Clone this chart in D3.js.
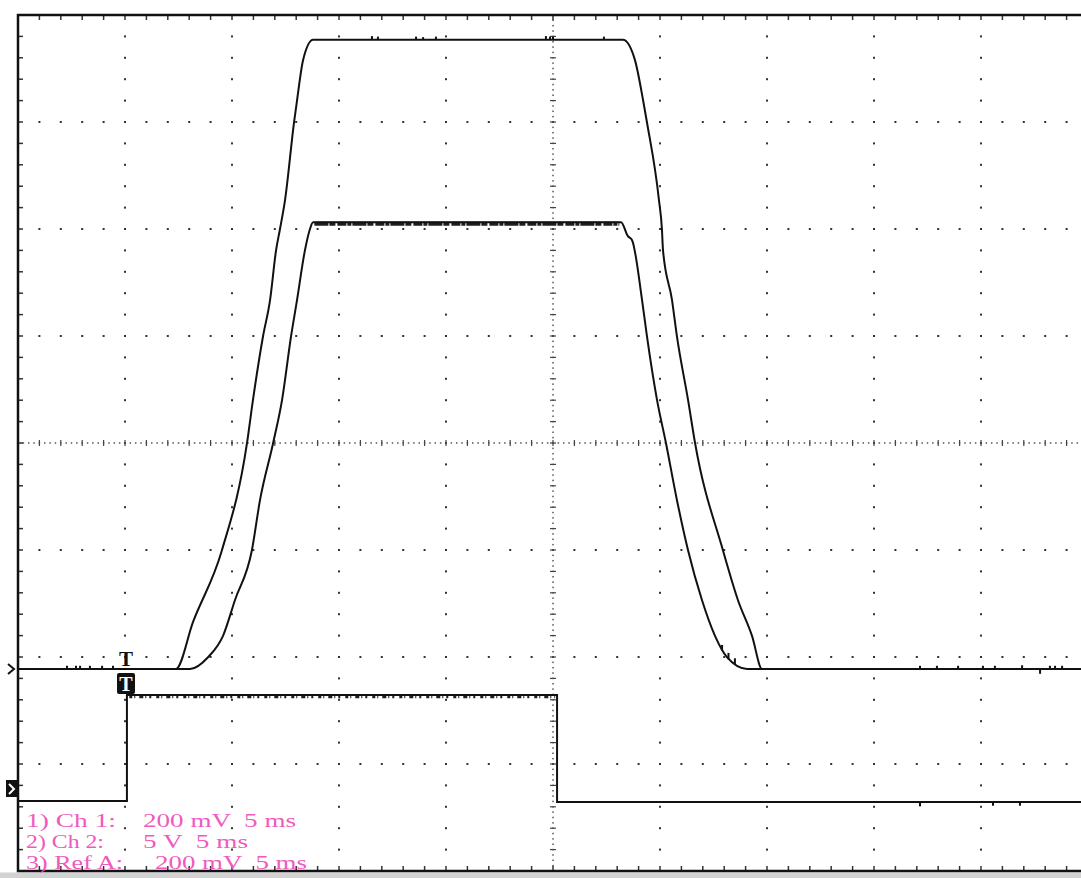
<!DOCTYPE html>
<html>
<head>
<meta charset="utf-8">
<script src="https://cdn.jsdelivr.net/npm/d3@7"></script>
<style>
  body { margin: 0; background: #fff; }
  svg { display: block; }
  .lbl { white-space: pre; }
</style>
</head>
<body>
<div id="scope"></div>
<script>
// time axis in ms, trigger at 0, 5 ms/div ; vertical axis in screen divisions
const timeDomain = [-5, 45];
const divDomain = [-4, 4];

// Ch 1 (200 mV/div) : [ms, V]
const ch1Trace = [
  [-5, 0], [2.38, 0], [3.18, 0.088], [4.53, 0.222], [5.70, 0.422], [5.98, 0.503],
  [6.45, 0.622], [6.78, 0.690], [7.06, 0.783], [7.24, 0.822], [7.48, 0.877],
  [7.90, 1.022], [8.04, 1.063], [8.32, 1.138], [8.79, 1.176], [23.27, 1.176],
  [23.83, 1.138], [24.21, 1.063], [24.39, 1.022], [24.95, 0.877], [25.09, 0.822],
  [25.14, 0.783], [25.56, 0.690], [25.79, 0.622], [26.31, 0.503], [26.64, 0.422],
  [27.94, 0.222], [28.64, 0.129], [29.30, 0.062], [29.77, 0], [45, 0]
];

// Ref A (200 mV/div) : [ms, V]
const refATrace = [
  [-5, 0], [3.04, 0], [3.88, 0.022], [4.58, 0.062], [5.14, 0.129], [5.93, 0.222],
  [6.31, 0.316], [6.92, 0.422], [7.34, 0.503], [7.76, 0.622], [8.04, 0.690],
  [8.41, 0.783], [8.64, 0.822], [8.79, 0.835], [23.18, 0.835], [23.50, 0.809],
  [23.69, 0.802], [24.16, 0.690], [24.39, 0.622], [24.86, 0.503], [25.28, 0.422],
  [25.79, 0.316], [26.31, 0.222], [26.96, 0.129], [27.57, 0.062], [28.13, 0.022],
  [29.07, 0], [45, 0]
];

// Ch 2 (5 V/div) : [ms, V]
const ch2Trace = [
  [-5, 0], [0.09, 0], [0.09, 4.95], [20.19, 4.95], [20.19, -0.05], [45, -0.05]
];

const ch1Glitches = [
  [-2.71, 0, 0.006], [-2.29, 0, 0.006], [-2.10, 0, 0.006], [-1.64, 0, 0.006],
  [-1.07, 0, 0.006], [-0.56, 0, 0.006],
  [11.54, 1.176, 1.183], [11.82, 1.176, 1.182], [13.60, 1.176, 1.182], [13.93, 1.176, 1.181],
  [14.53, 1.176, 1.182], [19.67, 1.176, 1.183], [19.86, 1.176, 1.182], [20.00, 1.176, 1.182],
  [22.38, 1.176, 1.182],
  [37.15, 0, 0.006], [37.94, 0, 0.006], [38.93, 0, 0.006], [40.09, 0, 0.006],
  [40.65, 0, 0.006], [41.92, 0, 0.007], [42.76, 0, -0.009], [43.22, 0, 0.006],
  [43.46, 0, 0.006], [43.79, 0, 0.006]
];
const refAGlitches = [
  [27.9, 0.035, 0.045], [28.2, 0.018, 0.030], [28.5, 0.008, 0.020]
];
const ch2Glitches = [
  [37.15, -0.05, -0.25], [40.56, -0.05, -0.22], [41.82, -0.05, -0.22]
];
// noise envelope of the flat tops : [ms from, ms to, V low, V high]
const refAEnvelope = [8.85, 23.1, 0.827, 0.837];
const ch2Envelope = [0.2, 20.1, 4.80, 4.95];

// readout text
const labelNames = ["1) Ch 1:", "2) Ch 2:", "3) Ref A:"];
const labelScales = ["200 mV  5 ms", "5 V  5 ms", "200 mV  5 ms"];

// ---- channel settings (screen offsets in divisions) ----
const ch1 = {vpd: 0.2, offset: -2.112};
const refA = {vpd: 0.2, offset: -2.112};
const ch2 = {vpd: 5, offset: -3.346};

const W = 1081, H = 878;
const svg = d3.select("#scope").append("svg")
  .attr("width", W).attr("height", H);

svg.append("rect").attr("width", W).attr("height", H).attr("fill", "#fff");

const x = d3.scaleLinear().domain(timeDomain).range([18, 1088]);
const y = d3.scaleLinear().domain(divDomain).range([871, 15]);
const yv = (ch, v) => y(ch.offset + v / ch.vpd);

// ---- graticule ----
const majorX = d3.range(timeDomain[0], timeDomain[1] + 0.01, 5);
const minorX = d3.range(timeDomain[0], timeDomain[1] + 0.01, 1);
const majorY = d3.range(divDomain[0], divDomain[1] + 0.01, 1);
const minorY = d3.range(divDomain[0], divDomain[1] + 0.01, 0.2);
const centerT = (timeDomain[0] + timeDomain[1]) / 2;

const grid = svg.append("g").attr("fill", "#333");

majorX.filter(t => t > timeDomain[0] && Math.abs(t - centerT) > 0.01).forEach(t => {
  grid.selectAll(null).data(minorY.slice(1, -1)).enter().append("rect")
    .attr("x", x(t) - 1).attr("y", d => y(d) - 1)
    .attr("width", 2).attr("height", 2);
});
majorY.filter(d => Math.abs(d) > 0.01 && Math.abs(d) < 3.99).forEach(d => {
  grid.selectAll(null).data(minorX.slice(1)).enter().append("rect")
    .attr("x", t => x(t) - 1).attr("y", y(d) - 1)
    .attr("width", 2).attr("height", 2);
});

// center cross lines: dense dots + small ticks
const centerG = svg.append("g").attr("fill", "#555").attr("stroke", "#444");
centerG.selectAll(null).data(d3.range(divDomain[0], divDomain[1], 0.05)).enter().append("rect")
  .attr("x", x(centerT) - 0.75).attr("y", d => y(d) - 0.75)
  .attr("width", 1.5).attr("height", 1.5).attr("stroke", "none");
centerG.selectAll(null).data(minorY.slice(1, -1)).enter().append("line")
  .attr("x1", x(centerT) - 3).attr("x2", x(centerT) + 3)
  .attr("y1", d => y(d)).attr("y2", d => y(d)).attr("stroke-width", 1.2);
centerG.selectAll(null).data(d3.range(timeDomain[0], timeDomain[1], 0.25)).enter().append("rect")
  .attr("x", t => x(t) - 0.75).attr("y", y(0) - 0.75)
  .attr("width", 1.5).attr("height", 1.5).attr("stroke", "none");
centerG.selectAll(null).data(minorX.slice(1)).enter().append("line")
  .attr("x1", t => x(t)).attr("x2", t => x(t))
  .attr("y1", y(0) - 3).attr("y2", y(0) + 3).attr("stroke-width", 1.2);

// border ticks
const ticks = svg.append("g").attr("stroke", "#333").attr("stroke-width", 1.5);
ticks.selectAll(null).data(minorX.slice(1)).enter().append("line")
  .attr("x1", t => x(t)).attr("x2", t => x(t))
  .attr("y1", y(4)).attr("y2", y(4) + 5);
ticks.selectAll(null).data(minorX.slice(1)).enter().append("line")
  .attr("x1", t => x(t)).attr("x2", t => x(t))
  .attr("y1", y(-4)).attr("y2", y(-4) - 5);
ticks.selectAll(null).data(minorY.slice(1, -1)).enter().append("line")
  .attr("x1", x(timeDomain[0])).attr("x2", x(timeDomain[0]) + 5)
  .attr("y1", d => y(d)).attr("y2", d => y(d));

// frame
svg.append("rect").attr("x", 0).attr("y", y(-4) + 1.5)
  .attr("width", W).attr("height", H - y(-4)).attr("fill", "#d2d2d2");
svg.append("path")
  .attr("d", `M${W},${y(4)}H${x(timeDomain[0])}V${y(-4)}H${W}`)
  .attr("fill", "none").attr("stroke", "#111").attr("stroke-width", 2.5);

// ---- readout text ----
const readout = svg.append("g")
  .attr("font-family", "'Liberation Serif', 'DejaVu Serif', serif")
  .attr("font-size", 18).attr("fill", "#f05ac0");
const nameLen = [90, 78, 97];
const scaleX = [143, 143, 155];
const scaleLen = [153, 105, 152];
labelNames.forEach((s, i) => {
  const by = 827 + i * 21;
  readout.append("text").attr("class", "lbl")
    .attr("x", 26).attr("y", by)
    .attr("textLength", nameLen[i]).attr("lengthAdjust", "spacingAndGlyphs")
    .text(s);
  readout.append("text").attr("class", "lbl")
    .attr("x", scaleX[i]).attr("y", by)
    .attr("textLength", scaleLen[i]).attr("lengthAdjust", "spacingAndGlyphs")
    .text(labelScales[i]);
});

// ---- traces ----
const traces = svg.append("g");
function drawTrace(ch, data, curve) {
  traces.append("path")
    .datum(data)
    .attr("fill", "none")
    .attr("stroke", "#111")
    .attr("stroke-width", 2)
    .attr("d", d3.line().curve(curve).x(d => x(d[0])).y(d => yv(ch, d[1])));
}
function drawGlitches(ch, data) {
  traces.append("g").attr("stroke", "#111").attr("stroke-width", 2)
    .selectAll("line").data(data).enter().append("line")
    .attr("x1", d => x(d[0])).attr("x2", d => x(d[0]))
    .attr("y1", d => yv(ch, d[1])).attr("y2", d => yv(ch, d[2]));
}
function drawEnvelope(ch, env, width, dash) {
  const mid = (yv(ch, env[2]) + yv(ch, env[3])) / 2;
  traces.append("line")
    .attr("x1", x(env[0])).attr("x2", x(env[1]))
    .attr("y1", mid).attr("y2", mid)
    .attr("stroke", "#1e1e1e").attr("stroke-width", width)
    .attr("stroke-dasharray", dash);
}

drawEnvelope(refA, refAEnvelope, 4, "14,1,6,2,9,1,4,1");
drawEnvelope(ch2, ch2Envelope, 3, "3,2,1,4,4,2,1,3,2,5");

drawTrace(ch2, ch2Trace, d3.curveLinear);
drawTrace(refA, refATrace, d3.curveMonotoneX);
drawTrace(ch1, ch1Trace, d3.curveMonotoneX);
drawGlitches(ch1, ch1Glitches);
drawGlitches(refA, refAGlitches);
drawGlitches(ch2, ch2Glitches);

// ---- markers ----
const gy1 = yv(ch1, 0);
svg.append("path")
  .attr("d", `M8,${gy1 - 5}L14,${gy1}L8,${gy1 + 5}`)
  .attr("fill", "none").attr("stroke", "#111").attr("stroke-width", 2);

svg.append("rect").attr("x", 6).attr("y", 780).attr("width", 12).attr("height", 17).attr("fill", "#111");
svg.append("path")
  .attr("d", "M9,784L14,789L9,794")
  .attr("fill", "none").attr("stroke", "#fff").attr("stroke-width", 2);

const tx = x(0) + 1;
svg.append("text")
  .attr("x", tx).attr("y", 666)
  .attr("text-anchor", "middle")
  .attr("font-family", "'Liberation Serif', serif").attr("font-weight", "bold")
  .attr("font-size", 21).attr("fill", "#111")
  .text("T");
svg.append("rect")
  .attr("x", tx - 9).attr("y", 673).attr("width", 18).attr("height", 21).attr("rx", 2)
  .attr("fill", "#111");
svg.append("text")
  .attr("x", tx).attr("y", 691)
  .attr("text-anchor", "middle")
  .attr("font-family", "'Liberation Serif', serif").attr("font-weight", "bold")
  .attr("font-size", 20).attr("fill", "#fff")
  .text("T");
</script>
</body>
</html>
